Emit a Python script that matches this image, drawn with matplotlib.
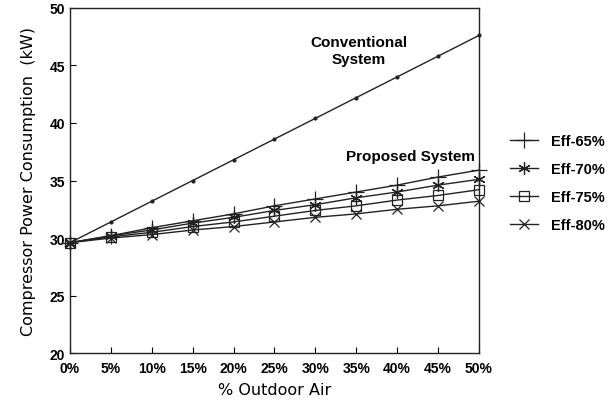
import matplotlib.pyplot as plt
from matplotlib.lines import Line2D

plt.rcParams['font.family'] = ['Liberation Sans', 'DejaVu Sans']
plt.rcParams['font.weight'] = 'bold'

outdoor_air = [0, 5, 10, 15, 20, 25, 30, 35, 40, 45, 50]
x_labels = ["0%", "5%", "10%", "15%", "20%", "25%", "30%", "35%", "40%", "45%", "50%"]

conventional = [29.6, 31.4, 33.2, 35.0, 36.8, 38.6, 40.4, 42.2, 44.0, 45.8, 47.6]
eff_65 = [29.6, 30.2, 30.9, 31.5, 32.1, 32.8, 33.4, 34.0, 34.6, 35.3, 35.9]
eff_70 = [29.6, 30.2, 30.7, 31.3, 31.8, 32.4, 32.9, 33.5, 34.0, 34.6, 35.1]
eff_75 = [29.6, 30.1, 30.5, 31.0, 31.4, 31.9, 32.4, 32.8, 33.3, 33.7, 34.2]
eff_80 = [29.6, 30.0, 30.3, 30.7, 31.0, 31.4, 31.8, 32.1, 32.5, 32.8, 33.2]

proposed = [
    ("Eff-65%", eff_65, "+", 11),
    ("Eff-70%", eff_70, (6, 2, 0), 9),
    ("Eff-75%", eff_75, "s", 7),
    ("Eff-80%", eff_80, "x", 7),
]

fig = plt.figure(figsize=(6.14, 4.02), dpi=100)
ax = fig.add_axes([0.114, 0.119, 0.666, 0.859])

ax.plot(outdoor_air, conventional, color="#222222", lw=1.0,
        marker="o", ms=2, clip_on=False)

handles = []
for label, vals, mk, ms in proposed:
    ax.plot(outdoor_air, vals, color="#222222", lw=1.0, marker=mk, ms=ms,
            mfc="none", mew=0.9, clip_on=False)
    handles.append(Line2D([], [], color="#222222", lw=1.0, marker=mk,
                          ms=ms, mfc="none", mew=0.9, label=label))

ax.set_xlim(0, 50)
ax.set_ylim(20, 50)
ax.set_xticks(outdoor_air)
ax.set_xticklabels(x_labels)
ax.set_yticks([20, 25, 30, 35, 40, 45, 50])
ax.tick_params(direction="in", length=4, labelsize=10, width=0.8)
ax.tick_params(axis="x", pad=6)
for s in ax.spines.values():
    s.set_linewidth(1.0)
    s.set_color("#222222")

ax.text(35.3, 46.3, "Conventional\nSystem", ha="center", va="center",
        fontsize=11, linespacing=1.25)
ax.text(49.5, 37.1, "Proposed System", ha="right", va="center", fontsize=11)

ax.set_xlabel("% Outdoor Air", family="DejaVu Sans", fontweight="normal",
              fontsize=11.5, labelpad=5)
ax.set_ylabel("Compressor Power Consumption  (kW)", family="DejaVu Sans",
              fontweight="normal", fontsize=11.5, labelpad=10)

fig.legend(handles=handles, loc="center left", bbox_to_anchor=(0.81, 0.542),
           frameon=False, fontsize=10.5, handlelength=1.9, labelspacing=0.95,
           handletextpad=0.9)

fig.savefig("out.png", dpi=100)
